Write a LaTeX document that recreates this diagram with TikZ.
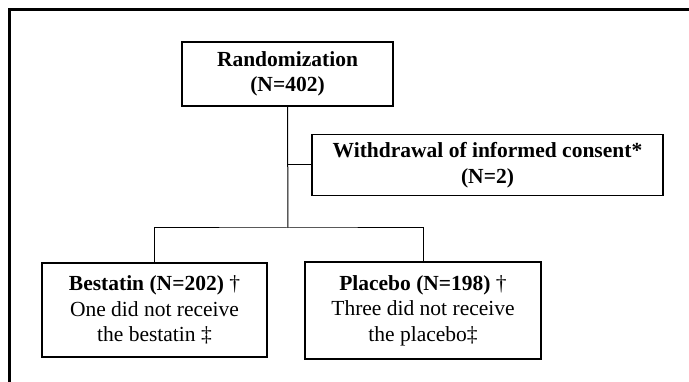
\documentclass[tikz,border=0pt]{standalone}
\usepackage{fontspec}
\setmainfont{Liberation Serif}
\begin{document}
\begin{tikzpicture}[x=1pt,y=-1pt,
  box/.style={draw, line width=1.3pt, rectangle, align=center, inner sep=0pt,
    font=\fontsize{21.5}{25.5}\selectfont},
  conn/.style={line width=1pt}]
\useasboundingbox (0,0) rectangle (689,382);
\draw[line width=3pt] (9.5,382) -- (9.5,9.5) -- (689,9.5);
\node[box, minimum width=211pt, minimum height=64pt] (rand) at (287.5,74)
  {\textbf{Randomization}\\\textbf{(N=402)}};
\node[box, minimum width=351pt, minimum height=61pt] (withd) at (487.5,165)
  {\textbf{Withdrawal of informed consent*}\\\textbf{(N=2)}};
\node[box, minimum width=225pt, minimum height=94pt] (best) at (154.5,310)
  {\textbf{Bestatin (N=202)} †\\One did not receive\\the bestatin ‡};
\node[box, minimum width=236pt, minimum height=97pt] (plac) at (423,310.5)
  {\textbf{Placebo (N=198)} †\\Three did not receive\\the placebo‡};
\coordinate (j) at (288,228);
\draw[conn] (rand.south) -- (j);
\draw[conn] (rand.south |- withd.west) -- (withd.west);
\draw[conn] (best.north) |- (j) -| (plac.north);
\end{tikzpicture}
\end{document}
